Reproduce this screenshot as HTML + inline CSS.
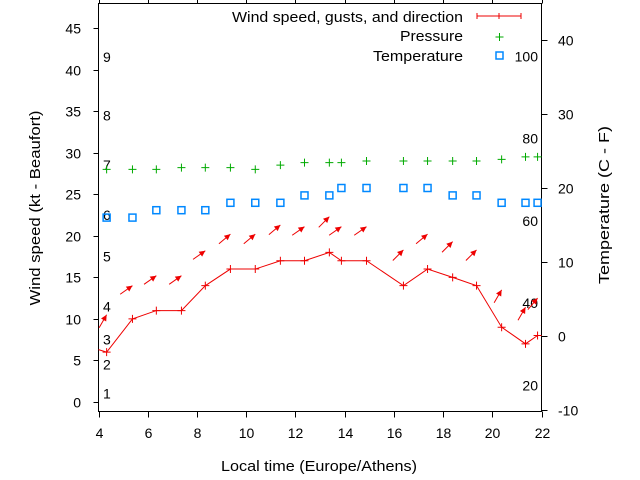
<!DOCTYPE html>
<html><head><meta charset="utf-8"><style>
body{margin:0;background:#fff;}
svg{display:block;font-family:"Liberation Sans",sans-serif;}
</style></head><body>
<svg id="chart" width="640" height="480" viewBox="0 0 640 480" xmlns="http://www.w3.org/2000/svg">
<g id="axes"></g>
<g id="marks"></g>
<g id="legend" font-size="15" fill="#000">
<text x="463" y="22" text-anchor="end" textLength="231" lengthAdjust="spacingAndGlyphs">Wind speed, gusts, and direction</text>
<line x1="477" y1="16" x2="521" y2="16" stroke="#e00" stroke-width="1"/>
<line x1="477" y1="13" x2="477" y2="19" stroke="#e00"/>
<line x1="521" y1="13" x2="521" y2="19" stroke="#e00"/>
<line x1="499" y1="13" x2="499" y2="19" stroke="#e00"/>
<text x="463" y="41" text-anchor="end" textLength="63" lengthAdjust="spacingAndGlyphs">Pressure</text>
<path d="M495.5 37h8M499.5 33v8" stroke="#0a0" fill="none"/>
<text x="463" y="61" text-anchor="end" textLength="90" lengthAdjust="spacingAndGlyphs">Temperature</text>
<rect x="496" y="52" width="7" height="7" fill="none" stroke="#08f" stroke-width="1.5"/>
</g>
</svg>
<script>
const times=[4.33,5.38,6.35,7.37,8.34,9.36,10.37,11.39,12.37,13.38,13.87,14.89,16.39,17.37,18.39,19.36,20.38,21.35,21.84];
const windSpeed=[6,10,11,11,14,16,16,17,17,18,17,17,14,16,15,14,9,7,8];
const gustSpeed=[10.5,14,15.2,15.2,18.2,20.2,20.2,21.3,21.1,22.3,21.1,21.1,18.3,20.2,19.3,18.3,13.5,11.4,12.5];
const windDir=[60,35,35,35,35,40,40,40,35,45,35,35,45,40,45,45,60,60,50];
const pressure=[28,28,28,28.2,28.2,28.2,28,28.5,28.8,28.8,28.8,29,29,29,29,29,29.2,29.5,29.5];
const temperature=[16,16,17,17,17,18,18,18,19,19,20,20,20,20,19,19,18,18,18];
const xTicks=[4,6,8,10,12,14,16,18,20,22];
const yTicks=[0,5,10,15,20,25,30,35,40,45];
const y2Ticks=[-10,0,10,20,30,40];
const beaufort=[1,2,3,4,5,6,7,8,9];
const beaufortKt=[1,4.5,7.5,11.5,17.5,22.5,28.5,34.5,41.5];
const fahrenheit=[20,40,60,80,100];

const L=98.5,R=541.5,T=3.5,B=411.5;
const xs=v=>L+(v-4)/18*(R-L);
const ys=v=>402-v*8.31;
const y2s=v=>336-v*7.4;
const NS="http://www.w3.org/2000/svg";
function mk(tag,attrs,parent,txt){const e=document.createElementNS(NS,tag);for(const k in attrs)e.setAttribute(k,attrs[k]);if(txt!==undefined)e.textContent=txt;parent.appendChild(e);return e;}
const ax=document.getElementById('axes'),mg=document.getElementById('marks');
let e=mk('rect',{x:L,y:T,width:R-L,height:B-T,fill:'none',stroke:'#000'},ax);


xTicks.forEach(t=>{const x=Math.round(xs(t))+0.5;
 let a=mk('path',{d:`M${x} ${B}v6M${x} ${T}v-6`,stroke:'#000'},ax);
 
 
 let b=mk('text',{x:x,y:438,'text-anchor':'middle','font-size':14},ax,t);
 
 });
yTicks.forEach(t=>{const y=Math.round(ys(t))+0.5;
 let a=mk('path',{d:`M${L} ${y}h-5`,stroke:'#000'},ax);
 
 
 let b=mk('text',{x:81,y:y+5,'text-anchor':'end','font-size':14},ax,t);
 
 });
y2Ticks.forEach(t=>{const y=Math.round(y2s(t))+0.5;
 let a=mk('path',{d:`M${R} ${y}h6`,stroke:'#000'},ax);
 
 
 let b=mk('text',{x:558,y:y+5,'font-size':14},ax,t);
 
 });
beaufort.forEach((t,i)=>{let b=mk('text',{x:103,y:ys(beaufortKt[i])+5,'font-size':14},ax,t);
 
 });
fahrenheit.forEach(f=>{let b=mk('text',{x:538,y:y2s((f-32)*5/9)+5,'text-anchor':'end','font-size':14},ax,f);
 
 });
e=mk('text',{x:319,y:471,'text-anchor':'middle','font-size':15,textLength:196,lengthAdjust:'spacingAndGlyphs'},ax,'Local time (Europe/Athens)');


e=mk('text',{x:0,y:0,'text-anchor':'middle','font-size':15,textLength:195,lengthAdjust:'spacingAndGlyphs',transform:'translate(40,208) rotate(-90)'},ax,'Wind speed (kt - Beaufort)');


e=mk('text',{x:0,y:0,'text-anchor':'middle','font-size':15,textLength:158,lengthAdjust:'spacingAndGlyphs',transform:'translate(609,205) rotate(-90)'},ax,'Temperature (C - F)');



times.forEach((t,i)=>{const x=xs(t),y=ys(pressure[i]);
 let p=mk('path',{d:`M${x-4} ${y}h8M${x} ${y-4}v8`,stroke:'#0a0',fill:'none'},mg);
 
 });
times.forEach((t,i)=>{const x=xs(t),y=y2s(temperature[i]);
 let p=mk('rect',{x:x-3.5,y:y-3.5,width:7,height:7,fill:'none',stroke:'#08f','stroke-width':1.5},mg);
 
 });
let d='';times.forEach((t,i)=>{d+=(i?'L':'M')+xs(t)+' '+ys(windSpeed[i]);});
e=mk('path',{d:'M'+L+' '+ys(6.3)+'L'+d.slice(1),stroke:'#e00',fill:'none'},mg);


times.forEach((t,i)=>{const x=xs(t),y=ys(windSpeed[i]);
 let p=mk('path',{d:`M${x-4} ${y}h8M${x} ${y-4}v8`,stroke:'#e00',fill:'none'},mg);
 
 });
times.forEach((t,i)=>{const x=xs(t),y=ys(gustSpeed[i]);const a=windDir[i]*Math.PI/180;
 const dx=Math.cos(a),dy=-Math.sin(a),len=15;
 const x0=x-dx*len,y0=y-dy*len;
 const px=-dy,py=dx;const hb=6,hw=3;
 const bx=x-dx*hb,by=y-dy*hb;
 let g=mk('g',{},mg);
 
 
 mk('line',{x1:x0,y1:y0,x2:x,y2:y,stroke:'#e00'},g);
 mk('path',{d:`M${x} ${y}L${bx+px*hw} ${by+py*hw}L${bx-px*hw} ${by-py*hw}Z`,fill:'#e00'},g);});
</script>
</body></html>
